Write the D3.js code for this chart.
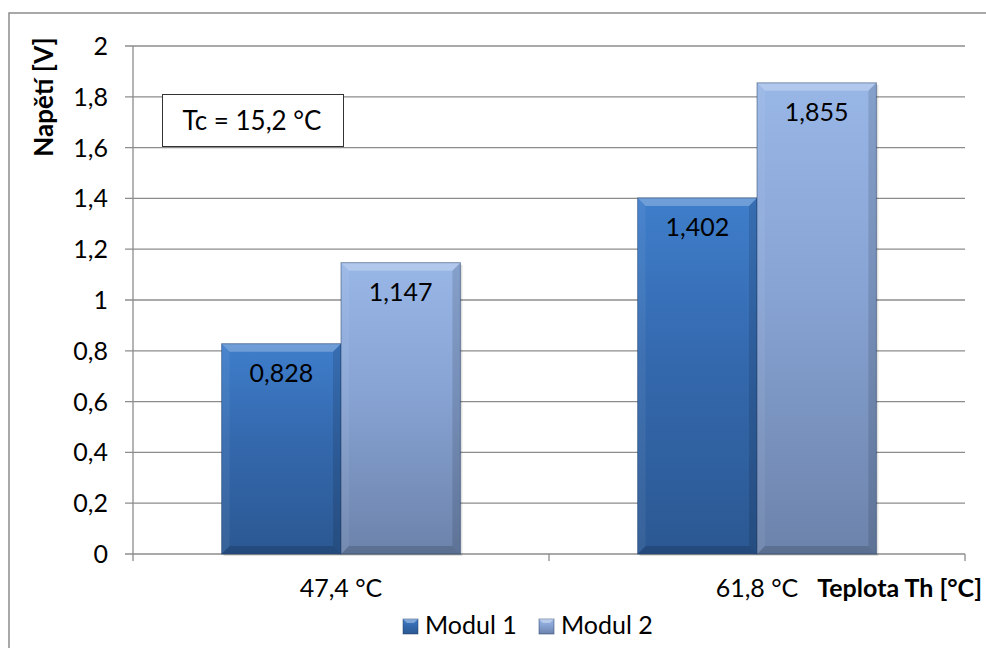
<!DOCTYPE html>
<html>
<head>
<meta charset="utf-8">
<script src="https://cdn.jsdelivr.net/npm/d3@7"></script>
<style>
  html, body { margin: 0; padding: 0; background: #fff; }
  svg { display: block; font-family: Lato, "Open Sans", sans-serif; }
</style>
</head>
<body>
<svg id="chart" width="986" height="648"></svg>
<script>
const categories = ["47,4 °C", "61,8 °C"];
const seriesNames = ["Modul 1", "Modul 2"];
const modul1 = [0.828, 1.402];
const modul2 = [1.147, 1.855];
const valueLabels1 = ["0,828", "1,402"];
const valueLabels2 = ["1,147", "1,855"];
const yTicks = [0, 0.2, 0.4, 0.6, 0.8, 1, 1.2, 1.4, 1.6, 1.8, 2];
const yTickLabels = ["0", "0,2", "0,4", "0,6", "0,8", "1", "1,2", "1,4", "1,6", "1,8", "2"];
const yTitle = "Napětí [V]";
const xTitle = "Teplota Th [°C]";
const note = "Tc = 15,2 °C";

(function () {
const svg = d3.select("#chart");
const pL = 133, pR = 965, pT = 46, pB = 554;
const FS = 25;

const x0 = d3.scaleBand().domain(categories).range([pL, pR]).padding(0);
const x1 = d3.scaleBand().domain(seriesNames).range([0, x0.bandwidth() * 0.574])
  .padding(0);
const y = d3.scaleLinear().domain([0, 2]).range([pB, pT]);

svg.append("rect").attr("x", 9).attr("y", 13).attr("width", 1000).attr("height", 700)
  .attr("fill", "none").attr("stroke", "#8c8c8c").attr("stroke-width", 1.5);

const defs = svg.append("defs");
const grads = [
  { id: "g1", stops: [["0%", "#3f7ecb"], ["45%", "#3469ae"], ["100%", "#2b5892"]] },
  { id: "g2", stops: [["0%", "#98b6e6"], ["45%", "#87a3d3"], ["100%", "#6c83ab"]] }
];
grads.forEach(g => {
  const lg = defs.append("linearGradient").attr("id", g.id)
    .attr("x1", 0).attr("y1", 0).attr("x2", 0).attr("y2", 1);
  g.stops.forEach(s => lg.append("stop").attr("offset", s[0]).attr("stop-color", s[1]));
});

svg.append("g").selectAll("line").data(yTicks).join("line")
  .attr("x1", pL - 8).attr("x2", pR)
  .attr("y1", d => y(d)).attr("y2", d => y(d))
  .attr("stroke", "#8c8c8c").attr("stroke-width", 1.3);

svg.append("line").attr("x1", pL).attr("x2", pL).attr("y1", pT).attr("y2", pB)
  .attr("stroke", "#8c8c8c").attr("stroke-width", 1.3);

const xTickPos = [pL, pL + x0.bandwidth(), pR];
svg.append("g").selectAll("line").data(xTickPos).join("line")
  .attr("x1", d => d).attr("x2", d => d).attr("y1", pB).attr("y2", pB + 7)
  .attr("stroke", "#8c8c8c").attr("stroke-width", 1.3);

svg.append("g").selectAll("text").data(yTicks).join("text")
  .attr("x", 108).attr("y", d => y(d)).attr("dy", "0.36em")
  .attr("text-anchor", "end").attr("font-size", FS).attr("fill", "#000")
  .text((d, i) => yTickLabels[i]);

const rows = [];
categories.forEach((c, i) => {
  rows.push({ cat: c, s: seriesNames[0], v: modul1[i], label: valueLabels1[i], g: "g1" });
  rows.push({ cat: c, s: seriesNames[1], v: modul2[i], label: valueLabels2[i], g: "g2" });
});
const off = x0.bandwidth() / 2 - x1.range()[1] / 2;
const bx = d => x0(d.cat) + off + x1(d.s);
const bw = x1.bandwidth();

const bars = svg.append("g").selectAll("g").data(rows).join("g");
bars.append("rect")
  .attr("x", d => bx(d) + 2).attr("y", d => y(d.v) + 2)
  .attr("width", bw).attr("height", d => pB - y(d.v))
  .attr("fill", "#000").attr("opacity", 0.12);
bars.append("rect")
  .attr("x", d => bx(d)).attr("y", d => y(d.v))
  .attr("width", bw).attr("height", d => pB - y(d.v))
  .attr("fill", d => `url(#${d.g})`);
const bev = 8;
bars.append("path")
  .attr("d", d => {
    const x = bx(d), t = y(d.v);
    return `M${x},${t}L${x + bw},${t}L${x + bw - bev},${t + bev}L${x + bev},${t + bev}Z`;
  })
  .attr("fill", "#fff").attr("opacity", 0.25);
bars.append("path")
  .attr("d", d => {
    const x = bx(d), t = y(d.v);
    return `M${x},${t}L${x + bev},${t + bev}L${x + bev},${pB - bev}L${x},${pB}Z`;
  })
  .attr("fill", "#fff").attr("opacity", 0.06);
bars.append("path")
  .attr("d", d => {
    const x = bx(d), t = y(d.v);
    return `M${x + bw},${t}L${x + bw - bev},${t + bev}L${x + bw - bev},${pB - bev}L${x + bw},${pB}Z`;
  })
  .attr("fill", "#000").attr("opacity", 0.12);
bars.append("path")
  .attr("d", d => {
    const x = bx(d);
    return `M${x},${pB}L${x + bev},${pB - bev}L${x + bw - bev},${pB - bev}L${x + bw},${pB}Z`;
  })
  .attr("fill", "#000").attr("opacity", 0.15);
bars.append("rect")
  .attr("x", d => bx(d)).attr("y", d => y(d.v))
  .attr("width", bw).attr("height", d => pB - y(d.v))
  .attr("fill", "none").attr("stroke", "#1f3c66").attr("stroke-opacity", 0.5).attr("stroke-width", 1);
bars.append("text")
  .attr("x", d => bx(d) + bw / 2).attr("y", d => y(d.v) + 38)
  .attr("text-anchor", "middle").attr("font-size", FS).attr("fill", "#000")
  .text(d => d.label);

svg.append("g").selectAll("text").data(categories).join("text")
  .attr("x", d => x0(d) + x0.bandwidth() / 2).attr("y", 597)
  .attr("text-anchor", "middle").attr("font-size", FS).attr("fill", "#000")
  .text(d => d);

svg.append("text").attr("x", 982).attr("y", 597).attr("text-anchor", "end")
  .attr("font-size", 25).attr("font-weight", "bold").attr("fill", "#000").text(xTitle);

svg.append("text").attr("transform", "translate(53,97) rotate(-90)")
  .attr("text-anchor", "middle").attr("font-size", 26).attr("font-weight", "bold")
  .attr("fill", "#000").text(yTitle);

svg.append("rect").attr("x", 162.5).attr("y", 94.5).attr("width", 181).attr("height", 52)
  .attr("fill", "#fff").attr("stroke", "#333").attr("stroke-width", 1);
svg.append("text").attr("x", 252).attr("y", 130).attr("text-anchor", "middle")
  .attr("font-size", 26).attr("fill", "#000").text(note);

const legX = [403, 539];
const lg = svg.append("g").selectAll("g").data(seriesNames).join("g")
  .attr("transform", (d, i) => `translate(${legX[i]},619)`);
lg.append("rect").attr("width", 15).attr("height", 15)
  .attr("fill", (d, i) => `url(#${grads[i].id})`)
  .attr("stroke", "#1f3c66").attr("stroke-opacity", 0.5);
lg.append("path").attr("d", "M0,0L15,0L11,4L4,4Z").attr("fill", "#fff").attr("opacity", 0.35);
lg.append("text").attr("x", 22).attr("y", 15).attr("font-size", FS).attr("fill", "#000")
  .text(d => d);
})();
</script>
</body>
</html>
